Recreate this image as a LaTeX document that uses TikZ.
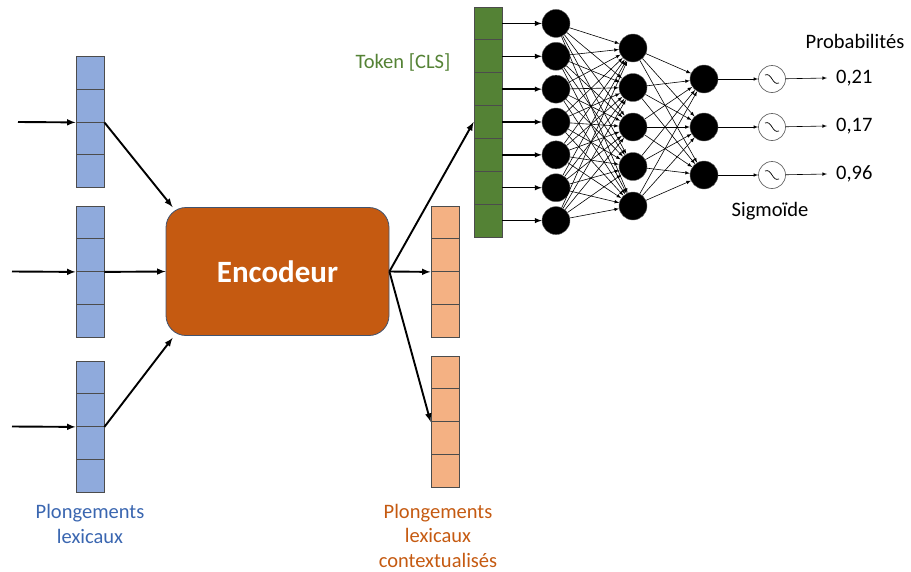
\documentclass[tikz,border=0pt]{standalone}
\usepackage{fontspec}
\setmainfont{Carlito}
\usetikzlibrary{arrows,positioning,calc,shapes}
\definecolor{embblue}{HTML}{8FAADC}
\definecolor{txtblue}{HTML}{3A66B0}
\definecolor{encorange}{HTML}{C55A11}
\definecolor{ctxorange}{HTML}{F4B183}
\definecolor{clsgreen}{HTML}{548235}
\definecolor{encline}{HTML}{41536F}
\tikzset{
  cell/.style={rectangle, draw=black!70, line width=0.8pt, minimum width=28, minimum height=32.75, inner sep=0pt},
  bluecell/.style={cell, fill=embblue},
  orangecell/.style={cell, fill=ctxorange},
  greencell/.style={cell, fill=clsgreen, minimum height=32.86},
  encoder/.style={rectangle, rounded corners=20, draw=encline, line width=0.8pt, fill=encorange, minimum width=223, minimum height=128, text=white, font=\fontsize{31}{36}\selectfont\bfseries},
  neuron/.style={circle, fill=black, draw=black!60, minimum size=28, inner sep=0pt},
  sigm/.style={circle, fill=white, draw=black!60, line width=0.7pt, minimum size=27, inner sep=0pt},
  thickarrow/.style={draw, line width=1.9pt, -latex},
  midarrow/.style={draw, line width=1.4pt, -latex},
  thinarrow/.style={draw, line width=0.6pt, -latex}
}
\begin{document}
\begin{tikzpicture}[x=1pt, y=-1pt, font=\fontsize{20.5}{24.5}\selectfont]
        \useasboundingbox (0,0) rectangle (911,571);
        %word embeddings
        \foreach \v/\top in {1/56.5, 2/206, 3/361}
          \foreach \i in {1,...,4}
            \node[bluecell] (b\v-\i) at (90, {\top+32.75*\i-16.375}) {};
        \coordinate (in1) at (18, 122);
        \coordinate (in2) at (12, 271.5);
        \coordinate (in3) at (12, 426.5);
        \node[text=txtblue, align=center] (lblemb) at (90, 524) {Plongements\\lexicaux};
        %encoder
        \node[encoder] (enc) at (277.5, 271.5) {Encodeur};
        %contextual embeddings
        \foreach \v/\top in {1/206, 2/356}
          \foreach \i in {1,...,4}
            \node[orangecell] (o\v-\i) at (445, {\top+32.75*\i-16.375}) {};
        \node[text=encorange, align=center] (lblctx) at (438, 535.5) {Plongements\\lexicaux\\contextualisés};
        %cls token
        \foreach \i in {1,...,7}
          \node[greencell] (g-\i) at (488, {7+32.86*\i-16.43}) {};
        \node[text=clsgreen] (lblcls) at (403, 62) {Token [CLS]};
        %classifier
        \foreach \i in {1,...,7}
          \node[neuron] (n1-\i) at ($(g-\i)+(68,0)$) {};
        \foreach \i in {1,...,5}
          \node[neuron] (n2-\i) at (633, {8.5+39.5*\i}) {};
        \foreach \i/\p in {1/{0,21}, 2/{0,17}, 3/{0,96}} {
          \node[neuron] (n3-\i) at (704, {31+48*\i}) {};
          \node[sigm] (s-\i) at (772, {31+48*\i}) {};
          \draw[line width=0.7pt] ($(s-\i)+(-7,-4)$) .. controls ($(s-\i)+(0,-7)$) and ($(s-\i)+(0,7)$) .. ($(s-\i)+(7,4)$);
          \node[anchor=west, inner xsep=9pt] (p-\i) at (827, {30+48*\i}) {\p};
        }
        \node (lblprob) at (855, 41) {Probabilités};
        \node (lblsig) at (770, 211) {Sigmoïde};
        %edges
        \foreach \v in {1,2,3}
          \path[thickarrow] (in\v) -- (b\v-2.south west);
        \path[thickarrow] (b1-2.south east) -- ($(enc.north west)+(7,0)$);
        \path[thickarrow] (b2-2.south east) -- (enc.west);
        \path[thickarrow] (b3-2.south east) -- ($(enc.south west)+(7,2)$);
        \path[thickarrow] (enc.east) -- (g-4.west);
        \path[thickarrow] (enc.east) -- (o1-2.south west);
        \path[thickarrow] (enc.east) -- (o2-2.south west);
        \foreach \i in {1,...,7}
          \path[midarrow] (g-\i.east) -- (n1-\i);
        \foreach \i in {1,...,7}
          \foreach \j in {1,...,5}
            \path[thinarrow] (n1-\i) -- (n2-\j);
        \foreach \i in {1,...,5}
          \foreach \j in {1,2,3}
            \path[thinarrow] (n2-\i) -- (n3-\j);
        \foreach \i in {1,2,3} {
          \path[thinarrow] (n3-\i) -- (s-\i);
          \path[thinarrow] (s-\i) -- (p-\i.west);
        }
\end{tikzpicture}
\end{document}
